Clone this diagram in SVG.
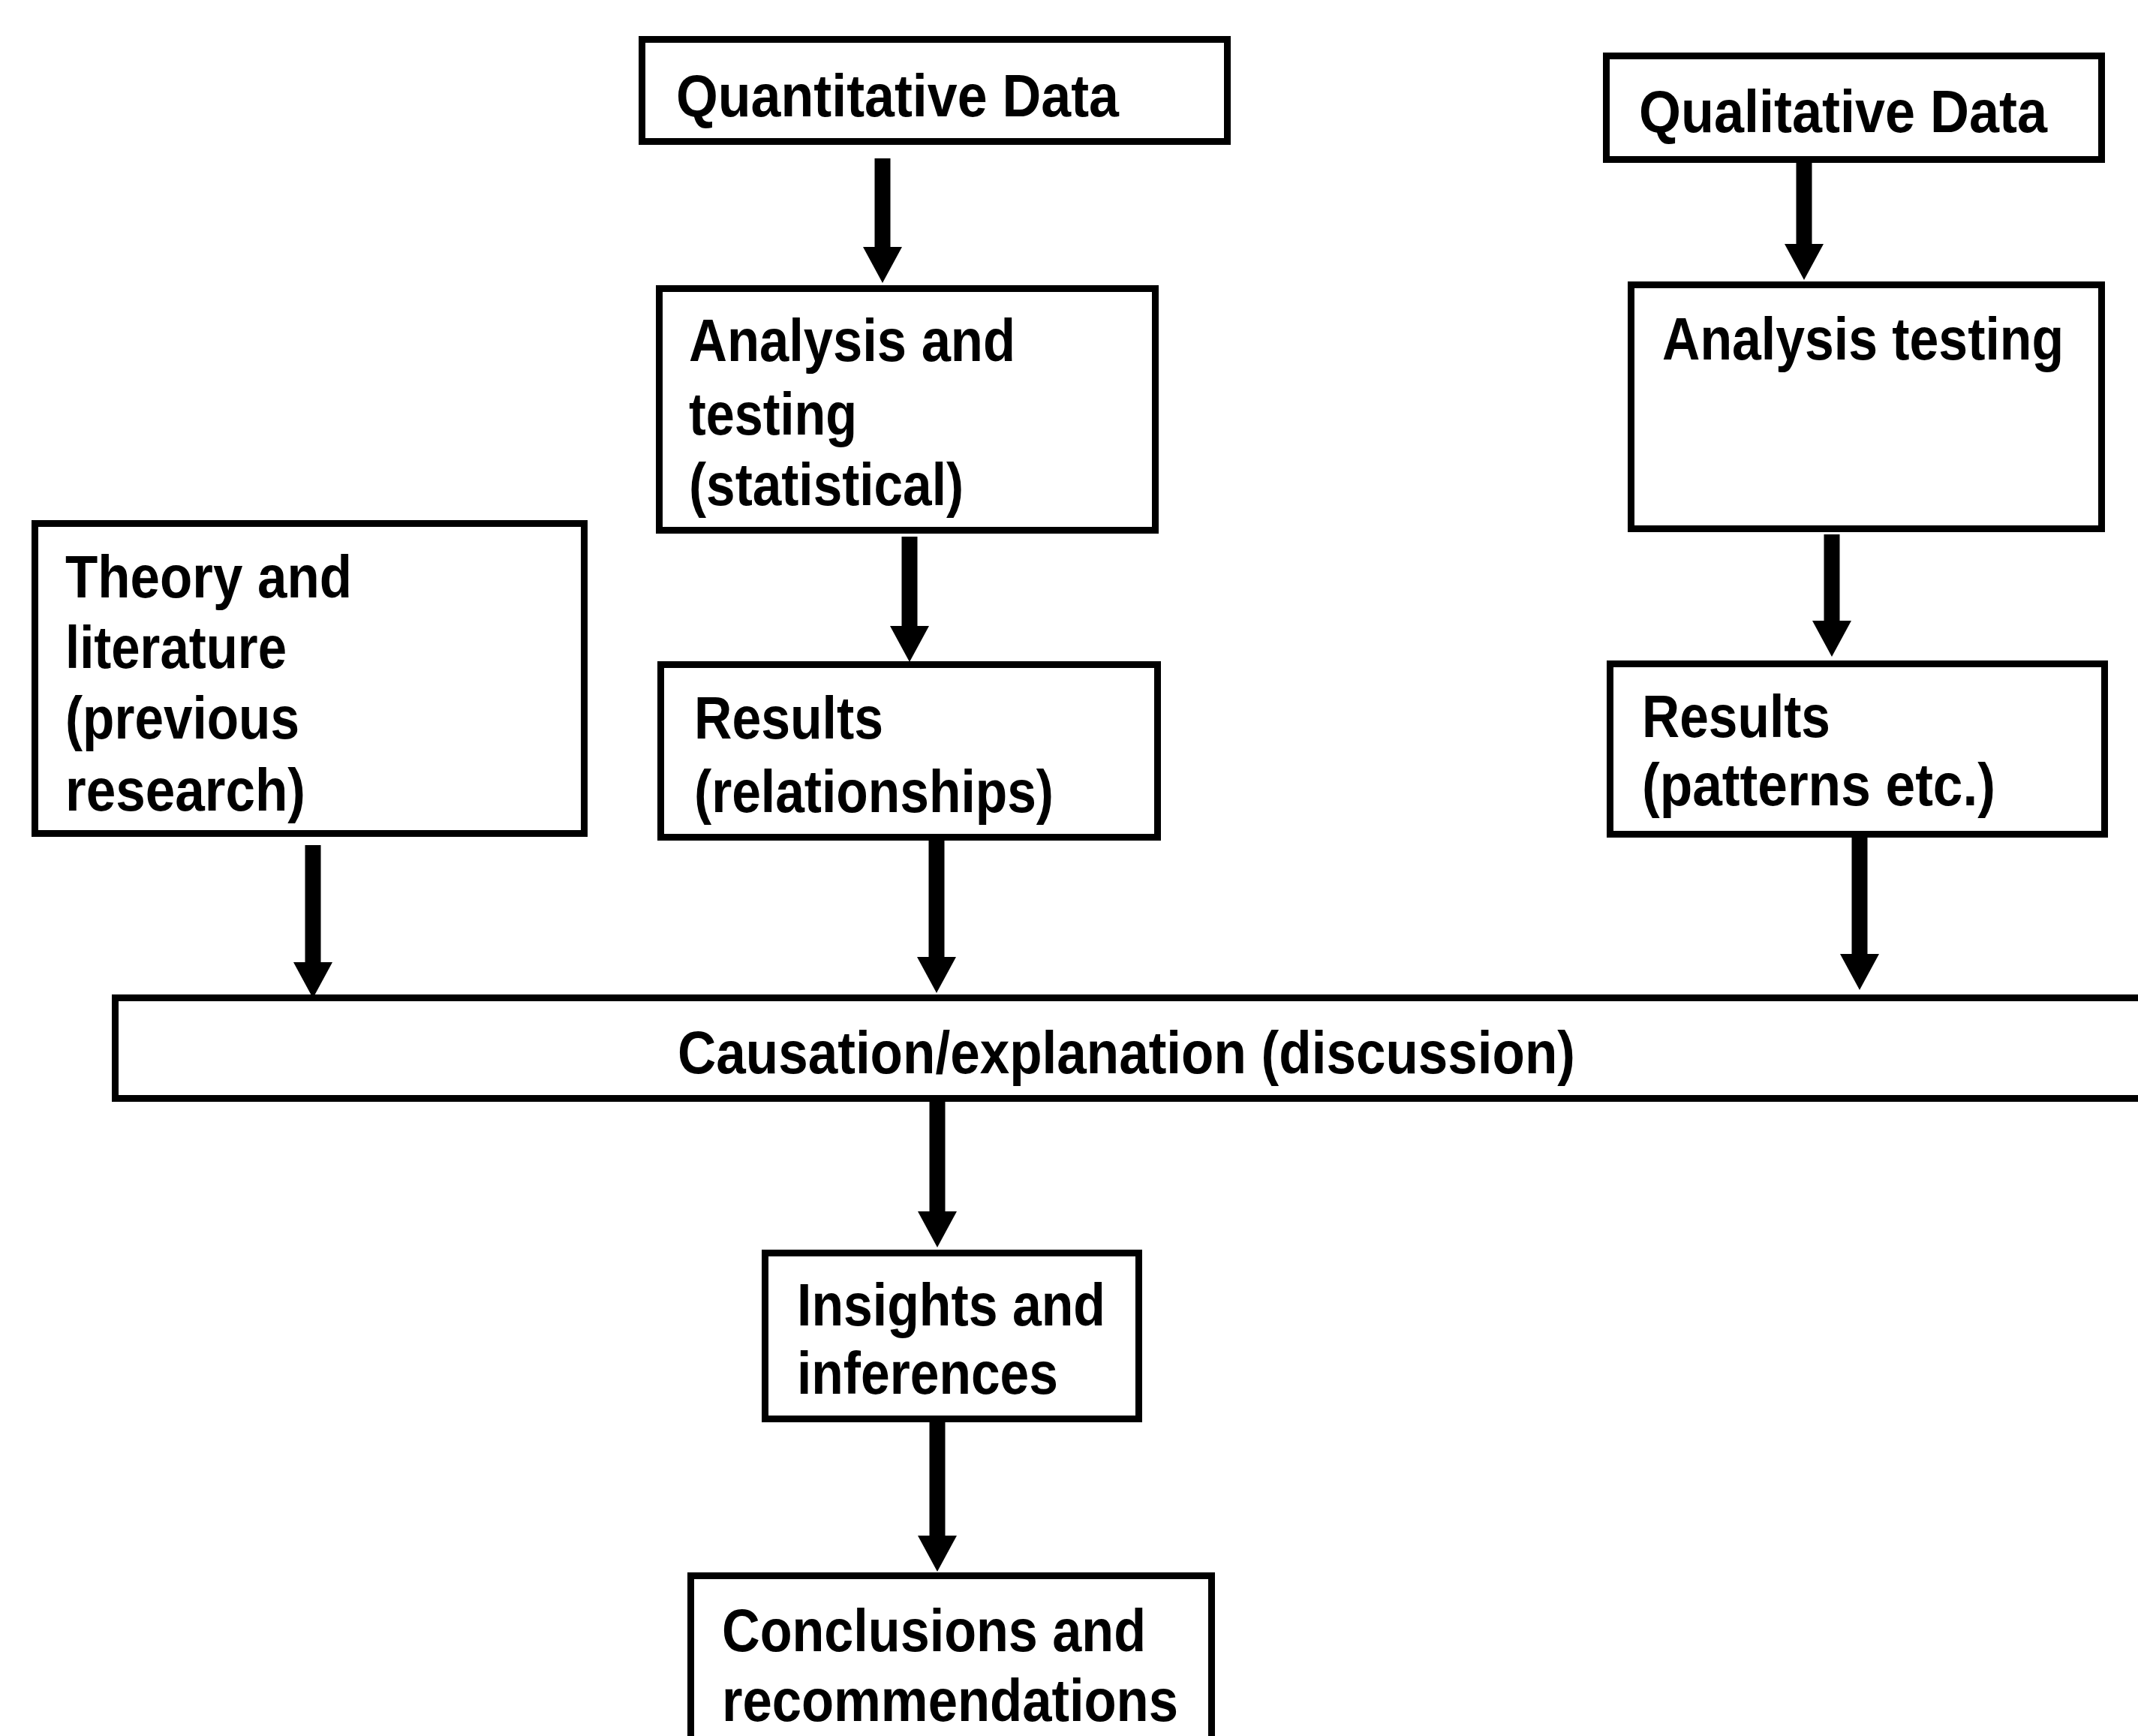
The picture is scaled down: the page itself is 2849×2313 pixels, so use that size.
<svg xmlns="http://www.w3.org/2000/svg" width="2849" height="2313" viewBox="0 0 2849 2313">
<style>
.box{fill:#fff;stroke:#000;stroke-width:9}
.t{font-family:"Liberation Sans",Arial,sans-serif;font-weight:bold;font-size:80px;fill:#000}
.arr{stroke:#000;stroke-width:21;fill:none;marker-end:url(#ah)}
</style>
<defs>
<marker id="ah" markerUnits="userSpaceOnUse" viewBox="0 0 48 52" markerWidth="48" markerHeight="52" refX="0" refY="26" orient="auto">
<path d="M0,0 L48,26 L0,52 z" fill="#000"/>
</marker>
</defs>
<rect width="2849" height="2313" fill="#fff"/>
<g id="connectors">
<line class="arr" x1="1176" y1="211" x2="1176" y2="329"/>
<line class="arr" x1="1212" y1="715" x2="1212" y2="834"/>
<line class="arr" x1="2404" y1="215" x2="2404" y2="325"/>
<line class="arr" x1="2441" y1="712" x2="2441" y2="827"/>
<line class="arr" x1="417" y1="1126" x2="417" y2="1282"/>
<line class="arr" x1="1248" y1="1118" x2="1248" y2="1275"/>
<line class="arr" x1="2478" y1="1114" x2="2478" y2="1271"/>
<line class="arr" x1="1249" y1="1466" x2="1249" y2="1614"/>
<line class="arr" x1="1249" y1="1893" x2="1249" y2="2046"/>
</g>
<g id="quantitative-data">
<rect class="box" x="855.5" y="52.5" width="780" height="136"/>
<text class="t" x="901" y="155" textLength="590" lengthAdjust="spacingAndGlyphs">Quantitative Data</text>
</g>
<g id="qualitative-data">
<rect class="box" x="2140.5" y="74.5" width="660" height="138"/>
<text class="t" x="2184" y="176" textLength="544" lengthAdjust="spacingAndGlyphs">Qualitative Data</text>
</g>
<g id="analysis-statistical">
<rect class="box" x="878.5" y="384.5" width="661" height="322"/>
<text class="t" x="918" y="481" textLength="435" lengthAdjust="spacingAndGlyphs">Analysis and</text>
<text class="t" x="918" y="579" textLength="224" lengthAdjust="spacingAndGlyphs">testing</text>
<text class="t" x="918" y="673" textLength="366" lengthAdjust="spacingAndGlyphs">(statistical)</text>
</g>
<g id="analysis-testing">
<rect class="box" x="2173.5" y="379.5" width="627" height="325"/>
<text class="t" x="2215" y="479" textLength="535" lengthAdjust="spacingAndGlyphs">Analysis testing</text>
</g>
<g id="theory-literature">
<rect class="box" x="46.5" y="697.5" width="732" height="413"/>
<text class="t" x="87" y="796" textLength="382" lengthAdjust="spacingAndGlyphs">Theory and</text>
<text class="t" x="87" y="890" textLength="295" lengthAdjust="spacingAndGlyphs">literature</text>
<text class="t" x="87" y="984" textLength="312" lengthAdjust="spacingAndGlyphs">(previous</text>
<text class="t" x="87" y="1080" textLength="320" lengthAdjust="spacingAndGlyphs">research)</text>
</g>
<g id="results-relationships">
<rect class="box" x="880.5" y="885.5" width="662" height="230"/>
<text class="t" x="925" y="984" textLength="252" lengthAdjust="spacingAndGlyphs">Results</text>
<text class="t" x="925" y="1082" textLength="479" lengthAdjust="spacingAndGlyphs">(relationships)</text>
</g>
<g id="results-patterns">
<rect class="box" x="2145.5" y="884.5" width="659" height="227"/>
<text class="t" x="2188" y="982" textLength="251" lengthAdjust="spacingAndGlyphs">Results</text>
<text class="t" x="2188" y="1073" textLength="471" lengthAdjust="spacingAndGlyphs">(patterns etc.)</text>
</g>
<g id="causation-explanation">
<rect class="box" x="153.5" y="1329.5" width="2800" height="134"/>
<text class="t" x="903" y="1430" textLength="1196" lengthAdjust="spacingAndGlyphs">Causation/explanation (discussion)</text>
</g>
<g id="insights-inferences">
<rect class="box" x="1019.5" y="1669.5" width="498" height="221"/>
<text class="t" x="1062" y="1766" textLength="411" lengthAdjust="spacingAndGlyphs">Insights and</text>
<text class="t" x="1062" y="1857" textLength="348" lengthAdjust="spacingAndGlyphs">inferences</text>
</g>
<g id="conclusions-recommendations">
<rect class="box" x="920.5" y="2099.5" width="694" height="300"/>
<text class="t" x="962" y="2200" textLength="565" lengthAdjust="spacingAndGlyphs">Conclusions and</text>
<text class="t" x="962" y="2293" textLength="608" lengthAdjust="spacingAndGlyphs">recommendations</text>
</g>
</svg>
